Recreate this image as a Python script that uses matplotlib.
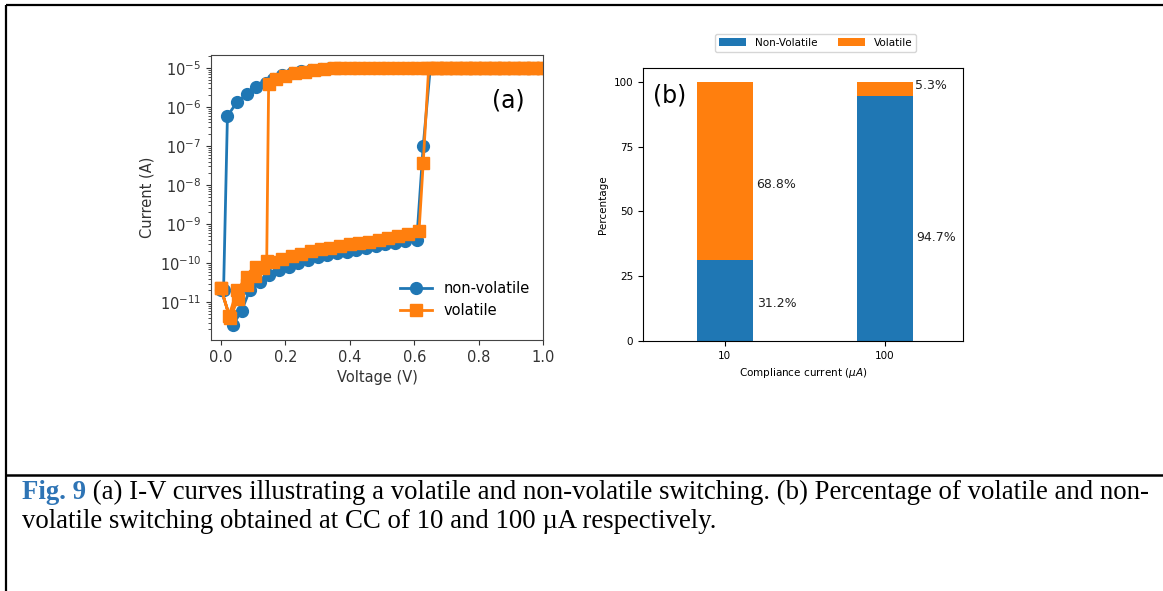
import matplotlib
matplotlib.use("Agg")
import matplotlib.pyplot as plt
from matplotlib.lines import Line2D
from matplotlib.ticker import LogLocator, NullFormatter
import numpy as np

# ---------------- data: panel (a) I-V curves ----------------
nv_fwd_v = [0.00, 0.037, 0.064, 0.09, 0.12, 0.15, 0.18, 0.21, 0.24, 0.27, 0.30, 0.33,
            0.36, 0.39, 0.42, 0.45, 0.48, 0.51, 0.54, 0.57, 0.608, 0.628, 0.65, 0.68,
            0.71, 0.74, 0.77, 0.80, 0.83, 0.86, 0.89, 0.92, 0.95, 0.98, 1.0]
nv_fwd_i = [2.0e-11, 2.6e-12, 6.0e-12, 2.1e-11, 3.3e-11, 4.9e-11, 6.6e-11, 8.0e-11,
            1.0e-10, 1.2e-10, 1.4e-10, 1.6e-10, 1.8e-10, 1.95e-10, 2.2e-10, 2.5e-10,
            2.75e-10, 3.0e-10, 3.3e-10, 3.6e-10, 4.0e-10, 1.0e-7, 1.0e-5, 1.0e-5,
            1.0e-5, 1.0e-5, 1.0e-5, 1.0e-5, 1.0e-5, 1.0e-5, 1.0e-5, 1.0e-5, 1.0e-5,
            1.0e-5, 1.0e-5]
nv_rev_v = [1.0, 0.97, 0.94, 0.91, 0.88, 0.85, 0.82, 0.79, 0.76, 0.73, 0.70, 0.67,
            0.64, 0.61, 0.58, 0.55, 0.52, 0.49, 0.46, 0.43, 0.40, 0.37, 0.34, 0.31,
            0.28, 0.25, 0.22, 0.19, 0.16, 0.14, 0.11, 0.08, 0.05, 0.02, 0.008]
nv_rev_i = [1.0e-5, 1.0e-5, 1.0e-5, 1.0e-5, 1.0e-5, 1.0e-5, 1.0e-5, 1.0e-5, 1.0e-5,
            1.0e-5, 1.0e-5, 1.0e-5, 1.0e-5, 1.0e-5, 1.0e-5, 1.0e-5, 1.0e-5, 1.0e-5,
            1.0e-5, 1.0e-5, 1.0e-5, 1.0e-5, 9.8e-6, 9.4e-6, 8.9e-6, 8.2e-6, 7.4e-6,
            6.4e-6, 5.1e-6, 4.1e-6, 3.2e-6, 2.1e-6, 1.35e-6, 5.8e-7, 2.0e-11]

vo_fwd_v = [0.00, 0.028, 0.053, 0.08, 0.106, 0.13, 0.16, 0.19, 0.22, 0.25, 0.28, 0.31,
            0.34, 0.37, 0.40, 0.43, 0.46, 0.49, 0.52, 0.55, 0.58, 0.615, 0.628, 0.645,
            0.67, 0.70, 0.73, 0.76, 0.79, 0.82, 0.85, 0.88, 0.91, 0.94, 0.97, 1.0]
vo_fwd_i = [2.3e-11, 3.9e-12, 1.2e-11, 2.7e-11, 4.6e-11, 7.5e-11, 1.05e-10, 1.3e-10,
            1.55e-10, 1.75e-10, 2.0e-10, 2.25e-10, 2.5e-10, 2.75e-10, 3.0e-10, 3.25e-10,
            3.55e-10, 3.85e-10, 4.3e-10, 4.8e-10, 5.4e-10, 6.5e-10, 3.6e-8, 1.0e-5,
            1.0e-5, 1.0e-5, 1.0e-5, 1.0e-5, 1.0e-5, 1.0e-5, 1.0e-5, 1.0e-5, 1.0e-5,
            1.0e-5, 1.0e-5, 1.0e-5]
vo_rev_v = [1.0, 0.97, 0.94, 0.91, 0.88, 0.85, 0.82, 0.79, 0.76, 0.73, 0.70, 0.67,
            0.64, 0.61, 0.58, 0.55, 0.52, 0.49, 0.46, 0.43, 0.40, 0.37, 0.35, 0.32,
            0.29, 0.26, 0.23, 0.20, 0.17, 0.148, 0.142, 0.11, 0.08, 0.05, 0.025, 0.0]
vo_rev_i = [1.0e-5, 1.0e-5, 1.0e-5, 1.0e-5, 1.0e-5, 1.0e-5, 1.0e-5, 1.0e-5, 1.0e-5,
            1.0e-5, 1.0e-5, 1.0e-5, 1.0e-5, 1.0e-5, 1.0e-5, 1.0e-5, 1.0e-5, 1.0e-5,
            1.0e-5, 1.0e-5, 1.0e-5, 1.0e-5, 9.7e-6, 9.2e-6, 8.7e-6, 8.0e-6, 7.2e-6,
            6.3e-6, 5.2e-6, 3.9e-6, 1.1e-10, 8.0e-11, 4.5e-11, 2.0e-11, 4.5e-12, 2.3e-11]

# ---------------- data: panel (b) stacked percentages ----------------
cc_labels = ["10", "100"]
non_volatile_pct = [31.2, 94.7]
volatile_pct = [68.8, 5.3]

caption_bold = "Fig. 9"
caption_line1 = " (a) I-V curves illustrating a volatile and non-volatile switching. (b) Percentage of volatile and non-"
caption_line2 = "volatile switching obtained at CC of 10 and 100 \u00b5A respectively."

BLUE = "#1f77b4"
ORANGE = "#ff7f0e"

W, H = 1163, 591
fig = plt.figure(figsize=(W / 100, H / 100), dpi=100)
fig.patch.set_facecolor("white")

def fx(px):
    return px / W

def fy(py):
    return 1 - py / H

# ---------------- panel (a) ----------------
axa = fig.add_axes([fx(211), fy(340), fx(543) - fx(211), fy(55) - fy(340)])
nv_v = nv_fwd_v + nv_rev_v
nv_i = nv_fwd_i + nv_rev_i
vo_v = vo_fwd_v + vo_rev_v
vo_i = vo_fwd_i + vo_rev_i
axa.plot(nv_v, nv_i, color=BLUE, marker="o", markersize=8.5, lw=2.0, label="non-volatile")
axa.plot(vo_v, vo_i, color=ORANGE, marker="s", markersize=8.5, lw=2.0, label="volatile")
axa.set_yscale("log")
axa.set_xlim(-0.031, 1.0)
axa.set_ylim(10 ** -11.97, 10 ** -4.67)
axa.set_xticks([0.0, 0.2, 0.4, 0.6, 0.8, 1.0])
axa.set_yticks([1e-11, 1e-10, 1e-9, 1e-8, 1e-7, 1e-6, 1e-5])
axa.yaxis.set_minor_locator(LogLocator(base=10, subs=np.arange(2, 10), numticks=100))
axa.yaxis.set_minor_formatter(NullFormatter())
axa.tick_params(labelsize=10.5, colors="#333333")
axa.tick_params(which="minor", length=2.2, colors="#333333")
axa.set_xlabel("Voltage (V)", fontsize=10.5, color="#333333")
axa.set_ylabel("Current (A)", fontsize=10.5, color="#333333")
for s in axa.spines.values():
    s.set_color("#444444")
axa.text(0.895, 0.84, "(a)", transform=axa.transAxes, fontsize=17, ha="center", va="center")
axa.legend(loc="lower right", bbox_to_anchor=(1.0, 0.03), frameon=False, fontsize=10.5,
           handlelength=2.2, labelspacing=0.5)

# ---------------- panel (b) ----------------
axb = fig.add_axes([fx(643), fy(341), fx(963) - fx(643), fy(68) - fy(341)])
x = np.arange(len(cc_labels))
axb.bar(x, non_volatile_pct, width=0.35, color=BLUE, label="Non-Volatile")
axb.bar(x, volatile_pct, width=0.35, bottom=non_volatile_pct, color=ORANGE, label="Volatile")
axb.set_xlim(-0.51, 1.49)
axb.set_ylim(0, 105.4)
axb.set_xticks(x)
axb.set_xticklabels(cc_labels)
axb.set_yticks([0, 25, 50, 75, 100])
axb.tick_params(labelsize=7.5)
axb.set_ylabel("Percentage", fontsize=7.5)
axb.set_xlabel("Compliance current ($\\mu A$)", fontsize=7.5)
label_pos = [(0.2, 14.3, non_volatile_pct[0]), (0.2, 60.6, volatile_pct[0]),
             (1.2, 39.8, non_volatile_pct[1]), (1.19, 98.8, volatile_pct[1])]
for (lx, ly, val) in label_pos:
    axb.text(lx, ly, f"{val}%", fontsize=9, ha="left", va="center", color="#222222")
axb.text(0.084, 0.90, "(b)", transform=axb.transAxes, fontsize=17, ha="center", va="center")
axb.legend(loc="lower center", bbox_to_anchor=(0.54, 1.04), ncol=2, fontsize=7.5,
           frameon=True, edgecolor="#cccccc", handlelength=2.6, columnspacing=2.0)

# ---------------- frame lines ----------------
for (xs, ys, lw) in [([6, W], [5, 5], 1.6), ([6, 6], [5, H], 1.6), ([6, W], [475, 475], 1.8)]:
    fig.add_artist(Line2D([fx(v) for v in xs], [fy(v) for v in ys], transform=fig.transFigure,
                          color="black", lw=lw, solid_capstyle="butt"))

# ---------------- caption ----------------
serif = ["Liberation Serif", "DejaVu Serif"]
fs = 17.0
x0, target_w = 22, 1125
tb = fig.text(fx(x0), fy(499), caption_bold, family=serif, fontweight="bold", color="#2E74B5",
              fontsize=fs, va="baseline")
t1 = fig.text(0, fy(499), caption_line1, family=serif, fontsize=fs, va="baseline")
t2 = fig.text(fx(x0), fy(528), caption_line2, family=serif, fontsize=fs, va="baseline")
for _ in range(3):
    fig.canvas.draw()
    r = fig.canvas.get_renderer()
    bb = tb.get_window_extent(r)
    t1.set_x(bb.x1 / W)
    fig.canvas.draw()
    b1 = t1.get_window_extent(r)
    total = b1.x1 - bb.x0
    fs = fs * target_w / total
    for t in (tb, t1, t2):
        t.set_fontsize(fs)
fig.canvas.draw()
r = fig.canvas.get_renderer()
bb = tb.get_window_extent(r)
t1.set_x(bb.x1 / W)

fig.savefig("out.png", dpi=100, facecolor="white")
